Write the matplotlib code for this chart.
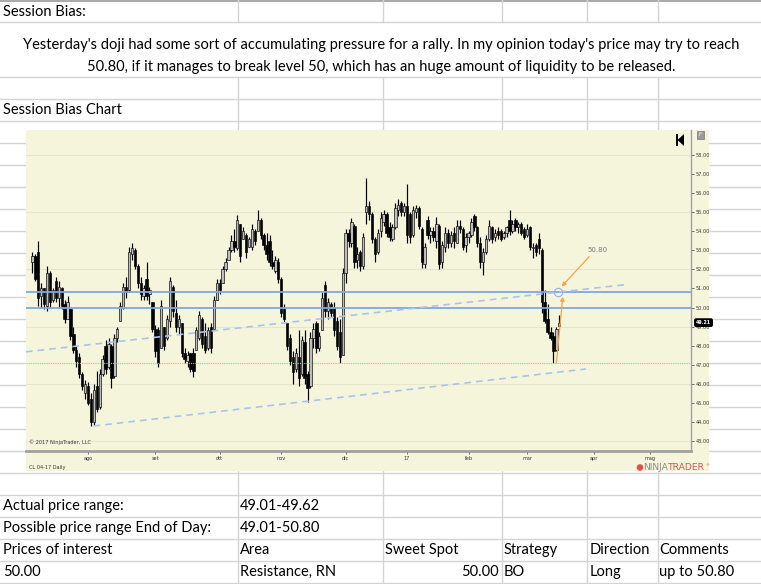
import numpy as np
import matplotlib
matplotlib.use("Agg")
import matplotlib.pyplot as plt
from matplotlib.patches import Rectangle, Polygon

# ---------------- data ----------------
opens = [52.4, 52.7, 52.9, 50.6, 51.0, 50.1, 51.8, 50.4, 51.4, 50.5,
         51.0, 50.2, 49.4, 49.9, 48.6, 47.8, 47.4, 46.5, 45.5, 45.9,
         45.2, 44.0, 45.9, 44.8, 46.5, 48.0, 46.9, 48.0, 46.4, 48.4,
         49.3, 50.0, 51.1, 50.9, 52.8, 53.0, 52.2, 51.3, 50.6, 51.5,
         50.7, 50.3, 48.9, 48.8, 47.9, 49.0, 48.4, 49.3, 51.1, 49.7,
         49.0, 49.2, 47.6, 47.2, 47.6, 47.6, 47.8, 48.4, 49.4, 48.5,
         47.9, 49.0, 48.9, 50.4, 51.3, 51.3, 52.0, 52.5, 53.0, 53.5,
         53.1, 54.4, 53.6, 53.8, 53.2, 53.2, 54.0, 54.0, 54.6, 53.8,
         53.3, 53.5, 52.4, 51.9, 52.4, 51.5, 49.9, 49.2, 48.4, 47.4,
         46.8, 47.4, 46.5, 48.2, 46.5, 45.9, 48.4, 49.2, 47.9, 48.8,
         51.2, 49.8, 50.2, 50.0, 49.3, 48.7, 47.5, 51.8, 53.9, 53.4,
         54.3, 52.5, 52.9, 52.2, 55.0, 55.3, 54.9, 53.6, 52.9, 54.0,
         54.5, 54.9, 54.2, 53.6, 54.2, 55.1, 55.5, 55.0, 55.3, 54.9,
         53.8, 55.0, 55.2, 54.1, 52.3, 54.6, 53.8, 54.0, 53.5, 54.3,
         52.4, 53.2, 53.9, 53.4, 53.9, 53.4, 54.3, 54.1, 53.3, 53.7,
         53.8, 54.8, 54.2, 53.4, 52.4, 52.9, 53.6, 54.2, 53.7, 54.0,
         54.0, 53.7, 53.9, 54.6, 54.0, 54.6, 54.2, 54.4, 54.1, 53.8,
         54.2, 53.1, 53.3, 53.6, 53.0, 50.3, 49.4, 48.7, 48.5, 47.8,
         49.01]
highs = [52.9, 52.8, 53.5, 51.3, 51.0, 52.2, 51.9, 51.0, 51.6, 51.4,
         51.1, 50.4, 50.6, 50.0, 49.0, 48.0, 47.6, 46.6, 46.2, 46.1,
         45.5, 46.0, 46.7, 46.8, 47.5, 48.3, 48.4, 48.1, 48.6, 49.0,
         50.3, 51.3, 51.6, 53.2, 53.4, 53.1, 52.3, 51.6, 51.2, 52.4,
         51.1, 50.3, 49.1, 49.0, 50.4, 49.0, 49.6, 51.6, 51.2, 50.4,
         49.6, 49.2, 47.9, 47.7, 47.6, 47.9, 49.0, 49.8, 49.5, 49.2,
         49.0, 49.2, 50.6, 51.5, 51.5, 52.2, 52.6, 53.2, 53.8, 54.1,
         54.85, 54.4, 54.2, 53.9, 53.7, 54.4, 54.1, 55.1, 54.7, 53.9,
         53.9, 53.8, 53.0, 52.7, 52.6, 51.6, 50.2, 49.2, 48.6, 47.7,
         47.9, 48.8, 48.5, 48.8, 46.7, 48.7, 49.2, 49.3, 48.7, 50.8,
         51.4, 50.5, 50.3, 50.3, 49.5, 49.4, 52.1, 54.1, 54.1, 54.7,
         54.4, 53.2, 53.0, 53.9, 56.8, 55.6, 55.0, 53.7, 54.1, 55.0,
         55.1, 55.0, 54.5, 54.4, 55.5, 55.7, 55.6, 55.5, 56.5, 55.0,
         55.3, 55.4, 55.3, 54.2, 53.4, 54.8, 54.2, 54.2, 54.75, 54.4,
         53.5, 54.2, 54.1, 54.0, 54.2, 54.6, 54.6, 54.2, 53.9, 54.0,
         54.7, 54.9, 54.3, 53.7, 53.1, 53.8, 54.6, 54.3, 54.1, 54.2,
         54.1, 54.0, 54.3, 55.1, 54.6, 54.7, 54.5, 54.5, 54.2, 54.4,
         54.3, 53.4, 53.4, 53.9, 53.1, 50.9, 50.2, 49.0, 48.7, 49.0,
         49.62]
lows = [51.8, 51.4, 50.1, 50.0, 49.9, 49.8, 50.0, 50.3, 50.3, 50.0,
        49.9, 49.2, 49.4, 48.3, 47.6, 46.9, 46.3, 45.7, 45.2, 44.9,
        43.8, 43.85, 44.5, 44.7, 46.4, 46.5, 46.8, 45.8, 46.3, 48.2,
        49.3, 49.9, 50.5, 50.8, 52.5, 52.0, 51.0, 50.4, 50.4, 50.4,
        50.2, 48.7, 47.4, 46.9, 47.9, 47.8, 48.3, 49.0, 49.5, 48.7,
        48.6, 47.4, 47.1, 46.9, 46.6, 46.35, 47.8, 48.3, 47.9, 47.6,
        47.8, 47.6, 48.9, 50.4, 50.7, 51.3, 51.9, 52.5, 52.9, 52.9,
        53.0, 52.4, 53.6, 52.6, 53.2, 53.0, 53.3, 54.0, 53.6, 53.0,
        52.5, 52.2, 52.0, 51.8, 51.3, 49.5, 49.2, 47.8, 47.0, 46.0,
        46.6, 45.9, 46.4, 46.0, 45.05, 45.8, 47.9, 47.6, 47.7, 48.8,
        49.5, 49.4, 49.5, 48.5, 47.8, 47.1, 47.5, 51.3, 53.2, 53.2,
        52.1, 52.1, 51.9, 52.0, 54.4, 54.6, 53.4, 52.4, 52.8, 53.7,
        54.3, 53.7, 53.5, 53.5, 54.1, 54.8, 54.8, 54.8, 53.4, 53.4,
        53.7, 54.7, 54.1, 52.1, 52.1, 53.6, 53.4, 53.5, 53.1, 52.0,
        52.1, 52.9, 53.1, 53.2, 53.1, 53.4, 53.9, 53.0, 52.9, 53.4,
        53.7, 54.0, 53.2, 52.1, 51.7, 52.8, 53.5, 53.4, 53.5, 53.6,
        53.5, 53.6, 53.7, 53.8, 53.9, 54.0, 53.9, 53.8, 53.6, 53.7,
        53.0, 52.6, 52.7, 52.8, 49.7, 49.2, 48.6, 48.3, 47.09, 47.7,
        49.01]
closes = [52.7, 51.5, 50.5, 51.0, 50.2, 51.8, 50.3, 50.9, 50.5, 51.1,
          50.1, 49.4, 50.3, 48.5, 47.8, 47.2, 46.5, 45.9, 46.0, 45.0,
          44.0, 45.7, 44.7, 46.5, 47.3, 46.8, 48.1, 46.3, 48.4, 48.9,
          50.1, 51.1, 50.8, 52.9, 53.1, 52.2, 51.3, 50.7, 51.0, 50.6,
          50.9, 48.9, 47.7, 47.1, 50.1, 48.0, 49.4, 51.4, 49.8, 49.0,
          49.4, 47.6, 47.3, 47.5, 46.8, 46.7, 48.8, 49.6, 48.1, 47.8,
          48.8, 47.9, 50.4, 51.3, 50.9, 52.0, 52.4, 53.0, 53.5, 53.2,
          54.6, 52.7, 54.0, 52.9, 53.6, 54.1, 53.5, 54.6, 53.8, 53.3,
          52.8, 52.4, 52.2, 52.5, 51.5, 49.7, 49.4, 48.0, 47.2, 46.6,
          47.6, 46.3, 48.3, 46.3, 45.8, 48.4, 48.9, 47.9, 48.5, 50.5,
          49.8, 50.3, 49.7, 48.8, 48.0, 47.4, 51.8, 53.9, 53.5, 54.5,
          52.4, 52.8, 52.2, 53.7, 55.3, 54.9, 53.6, 52.8, 53.9, 54.7,
          54.9, 53.9, 53.7, 54.2, 55.2, 55.4, 55.0, 55.3, 53.8, 53.7,
          55.1, 55.2, 54.3, 52.4, 53.2, 53.8, 54.0, 53.7, 54.4, 52.3,
          53.3, 53.9, 53.4, 53.8, 53.5, 54.3, 54.1, 53.2, 53.7, 53.9,
          54.5, 54.2, 53.4, 52.4, 52.9, 53.6, 54.3, 53.6, 53.9, 53.8,
          53.6, 53.9, 54.2, 54.0, 54.4, 54.2, 54.4, 53.9, 53.7, 54.1,
          53.2, 53.2, 52.9, 53.1, 50.3, 49.3, 48.7, 48.4, 47.7, 48.9,
          49.21]

month_labels = ["ago", "set", "ott", "nov", "dic", "17", "feb", "mar", "apr", "mag"]
month_bar_index = [19, 42, 64, 85, 107, 128, 149, 169, 192, 211]
price_ticks = list(range(43, 59))
grid_levels = [43, 46, 49, 52, 55, 58]
resistance_levels = [50.80, 50.00]
support_level = 47.09
trend_upper = ([-2.2, 202.4], [47.68, 51.2])
trend_lower = ([20.9, 189.1], [43.79, 46.78])
arrow_up = ((179.0, 47.1), (181.2, 50.57))
arrow_target = ((190.2, 52.67), (180.8, 51.1))
target_label = (193.1, 53.0, "50.80")
circle_point = (179.7, 50.83)
last_price = 49.21

# ---------------- figure ----------------
W, H = 761, 584
fig = plt.figure(figsize=(W / 100, H / 100), dpi=100)
bg = fig.add_axes([0, 0, 1, 1])
bg.set_xlim(0, W)
bg.set_ylim(H, 0)
bg.axis("off")

gridc = "#D4D4D4"
row_lines = [22, 77, 99] + list(range(121, 584, 22))
for y in row_lines:
    bg.plot([0, W], [y, y], color=gridc, lw=1, zorder=1)
bg.plot([0, W], [0.5, 0.5], color="#9A9A9A", lw=1.2, zorder=1)
col_lines = [238, 383, 502, 587, 658]
for x in col_lines:
    bg.plot([x, x], [0, 22], color=gridc, lw=1, zorder=1)
    bg.plot([x, x], [77, H], color=gridc, lw=1, zorder=1)

cream = "#F5F5DC"
bg.add_patch(Rectangle((26, 130), 683, 341, facecolor=cream, edgecolor="none", zorder=5))

font = "Lato"
fs = 10.5
def cell(x, y, s, ha="left"):
    bg.text(x, y, s, fontsize=fs, family=font, ha=ha, va="center", color="black", zorder=10)

cell(3, 11.5, "Session Bias:")
cell(381, 45, "Yesterday's doji had some sort of accumulating pressure for a rally. In my opinion today's price may try to reach", ha="center")
cell(381, 67, "50.80, if it manages to break level 50, which has an huge amount of liquidity to be released.", ha="center")
cell(3, 110, "Session Bias Chart")
cell(3, 506, "Actual price range:")
cell(240, 506, "49.01-49.62")
cell(3, 528, "Possible price range End of Day:")
cell(240, 528, "49.01-50.80")
cell(3, 550, "Prices of interest")
cell(240, 550, "Area")
cell(385, 550, "Sweet Spot")
cell(504, 550, "Strategy")
cell(590, 550, "Direction")
cell(659, 550, "Comments")
cell(3, 572, "50.00")
cell(240, 572, "Resistance, RN")
cell(499, 572, "50.00", ha="right")
cell(504, 572, "BO")
cell(590, 572, "Long")
cell(659, 572, "up to 50.80")

# chart texts outside plot area
tiny = 3.6
bg.text(29, 467, "CL 04-17 Daily", fontsize=tiny, color="#333333", va="center", zorder=10)
bg.text(668, 468, "NINJA", fontsize=6.6, color="#8A8A8A", va="center", ha="right", zorder=10)
bg.text(668, 468, "TRADER", fontsize=6.6, color="#D9534F", va="center", ha="left", zorder=10)
bg.text(710, 465, "®", fontsize=3, color="#D9534F", va="center", ha="right", zorder=10)
bg.add_patch(plt.Circle((640, 467.5), 3.3, facecolor="#D9534F", edgecolor="none", zorder=10))

# ---------------- candlestick chart ----------------
ax = fig.add_axes([26 / W, 1 - 451 / H, 665 / W, 321 / H])
ax.set_facecolor(cream)
o = np.array(opens); h = np.array(highs); l = np.array(lows); c = np.array(closes)
x = np.arange(len(c))
up = c >= o
bottom = np.minimum(o, c)
height = np.maximum(np.abs(c - o), 0.06)

for g in grid_levels:
    ax.axhline(g, color="#E6E5CC", lw=0.8, zorder=0)

ax.vlines(x, l, h, color="black", lw=0.85, zorder=3)
ax.bar(x[up], height[up], bottom=bottom[up], width=0.8, color="#BDBDBD",
       edgecolor="black", linewidth=0.45, zorder=4)
ax.bar(x[~up], height[~up], bottom=bottom[~up], width=0.8, color="black",
       edgecolor="black", linewidth=0.45, zorder=4)

for lev in resistance_levels:
    ax.axhline(lev, color="#7FA7E3", lw=1.3, zorder=5)
ax.axhline(support_level, color="#8FD08F", lw=0.8, ls=(0, (1, 1)), zorder=5)
ax.plot(*trend_upper, color="#A9C3EC", lw=1.2, ls=(0, (4, 3)), zorder=5)
ax.plot(*trend_lower, color="#A9C3EC", lw=1.2, ls=(0, (4, 3)), zorder=5)

orange = "#F6A444"
ax.annotate("", xy=arrow_up[1], xytext=arrow_up[0],
            arrowprops=dict(arrowstyle="-|>", color=orange, lw=0.9, mutation_scale=6, shrinkA=0, shrinkB=0), zorder=6)
ax.annotate("", xy=arrow_target[1], xytext=arrow_target[0],
            arrowprops=dict(arrowstyle="-|>", color=orange, lw=0.9, mutation_scale=6, shrinkA=0, shrinkB=0), zorder=6)
ax.text(target_label[0], target_label[1], target_label[2], fontsize=5, color="#7A7A7A",
        ha="center", va="center", zorder=6)
ax.plot([circle_point[0]], [circle_point[1]], marker="o", ms=6, mfc="none", mec="#8FB2E8", mew=0.8, zorder=6)

ax.text(0.004, 0.018, "© 2017 NinjaTrader, LLC", transform=ax.transAxes, fontsize=tiny,
        color="#333333", ha="left", va="bottom")

# icons drawn in figure-pixel coordinates on top of the chart
ax.add_patch(Rectangle((697, 131), 7, 8, facecolor="#9A9A9A", edgecolor="#777777", lw=0.5,
                       transform=bg.transData, clip_on=False, zorder=10))
ax.text(700.5, 135, "F", fontsize=4, color="white", ha="center", va="center",
        transform=bg.transData, clip_on=False, zorder=11)
ax.add_patch(Rectangle((675.5, 134), 2, 12, facecolor="black", transform=bg.transData,
                       clip_on=False, zorder=10))
ax.add_patch(Polygon([(684, 134), (684, 146), (677.5, 140)], closed=True, facecolor="black",
                     transform=bg.transData, clip_on=False, zorder=10))

ax.set_xlim(-2.19, 225.0)
ax.set_ylim(42.48, 59.31)

ax.yaxis.tick_right()
ax.set_yticks(price_ticks)
ax.set_yticklabels([f"{v:.2f}" for v in price_ticks])
ax.set_xticks(month_bar_index)
ax.set_xticklabels(month_labels)
ax.tick_params(axis="both", labelsize=tiny, colors="#333333", length=2, width=0.5, pad=1.5)
for s in ["top", "left"]:
    ax.spines[s].set_visible(False)
ax.spines["bottom"].set_color("#A0A0A0")
ax.spines["bottom"].set_linewidth(2)
ax.spines["right"].set_color("#A0A0A0")
ax.spines["right"].set_linewidth(1)

# last price tag
ax.annotate(f"{last_price:.2f}", xy=(1.0, last_price), xycoords=("axes fraction", "data"),
            xytext=(9, 0), textcoords="offset points", fontsize=3.4, color="white",
            fontweight="bold", ha="center", va="center", annotation_clip=False,
            bbox=dict(boxstyle="round,pad=0.25,rounding_size=0.3", fc="black", ec="black"), zorder=10)

fig.savefig("out.png", dpi=100, facecolor="white")
